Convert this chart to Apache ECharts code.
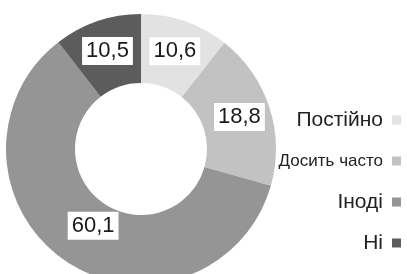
<!DOCTYPE html>
<html>
<head>
<meta charset="utf-8">
<script src="https://cdn.jsdelivr.net/npm/echarts@6/dist/echarts.min.js"></script>
<style>
  html, body { margin: 0; padding: 0; background: #fff; }
  #chart { width: 407px; height: 274px; }
</style>
</head>
<body>
<div id="chart"></div>
<script>
// категорії та значення (%)
const categories = ['Постійно', 'Досить часто', 'Іноді', 'Ні']
const values = [10.6, 18.8, 60.1, 10.5]
const colors = ['#e2e2e2', '#c2c2c2', '#959595', '#5c5c5c']

const fmt = (v) => String(v).replace('.', ',')

const chart = echarts.init(document.getElementById('chart'))
chart.setOption({
  animation: false,
  color: colors,
  legend: {
    orient: 'vertical',
    right: 1,
    top: 104,
    align: 'right',
    icon: 'rect',
    itemWidth: 9,
    itemHeight: 9,
    itemGap: 19,
    selectedMode: false,
    textStyle: {
      fontFamily: 'Liberation Sans',
      fontSize: 21,
      lineHeight: 22,
      color: '#222',
      padding: [0, 4, 0, 0]
    },
    data: categories.map((name) => name === 'Досить часто'
      ? { name, textStyle: { fontFamily: 'Liberation Sans', fontSize: 17, letterSpacing: -0.6, color: '#222' } }
      : { name })
  },
  series: [
    {
      type: 'pie',
      center: [141, 149],
      radius: [66, 135],
      startAngle: 90,
      clockwise: true,
      silent: true,
      itemStyle: { borderWidth: 0 },
      label: {
        show: true,
        position: 'inside',
        formatter: (p) => fmt(p.value),
        fontFamily: 'Liberation Sans',
        fontSize: 22,
        lineHeight: 22,
        color: '#1a1a1a',
        backgroundColor: '#fff',
        padding: [3, 4, 3, 4]
      },
      labelLine: { show: false },
      data: categories.map((name, i) => i === 2
        ? { name, value: values[i], label: { offset: [10, -9] } }
        : { name, value: values[i] })
    }
  ]
})
</script>
</body>
</html>
